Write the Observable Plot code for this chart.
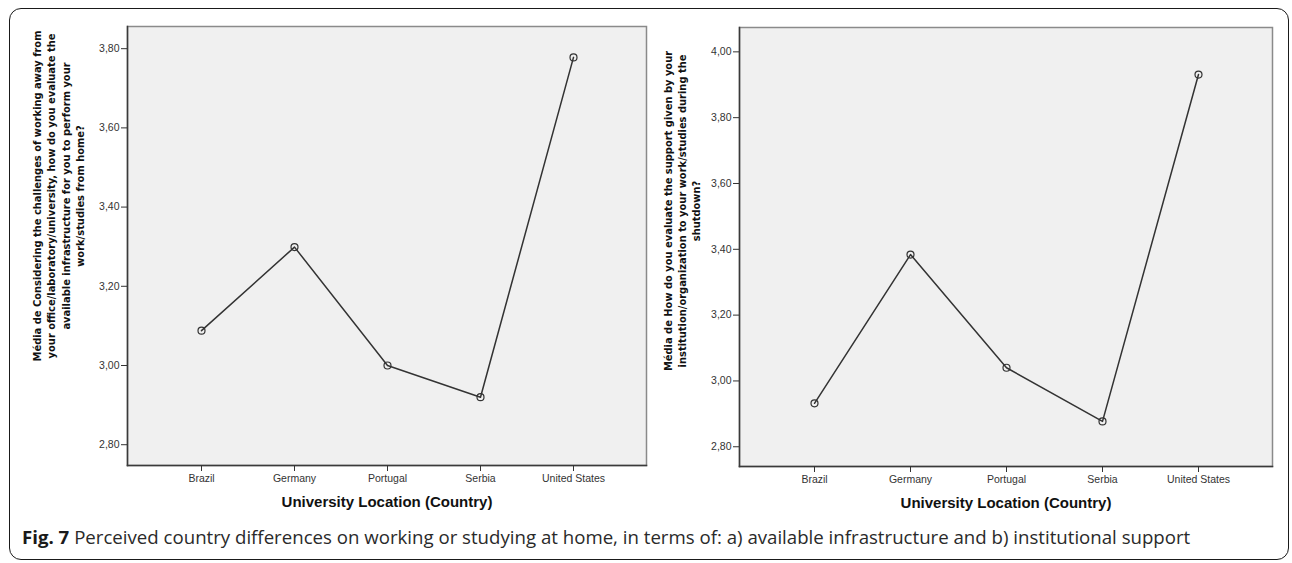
<!DOCTYPE html>
<html>
<head>
<meta charset="utf-8">
<script src="https://cdn.jsdelivr.net/npm/d3@7"></script>
<script src="https://cdn.jsdelivr.net/npm/@observablehq/plot@0.6"></script>
<style>
  html, body { margin: 0; padding: 0; background: #fff; }
  #page { position: relative; width: 1292px; height: 563px; overflow: hidden; background: #fff; }
  #border { position: absolute; left: 9px; top: 8px; width: 1278px; height: 550px; border: 1.5px solid #1a1a1a; border-radius: 12px; }
  #left { position: absolute; left: 0; top: 0; }
  #right { position: absolute; left: 646px; top: 0; }
  #caption { position: absolute; left: 22px; top: 526px; font-family: "Open Sans", sans-serif; font-size: 18.65px; color: #2a2a2a; white-space: nowrap; line-height: 1.2; }
  #caption b { font-weight: 700; color: #1a1a1a; }
</style>
</head>
<body>
<div id="page">
  <div id="border"></div>
  <div id="left"></div>
  <div id="right"></div>
  <div id="caption"><b>Fig. 7</b> <span id="captext"></span></div>
</div>
<script>
// ---- data ----
const countries = ["Brazil", "Germany", "Portugal", "Serbia", "United States"];
const infrastructure = [3.088, 3.299, 3.00, 2.92, 3.778];
const support = [2.932, 3.384, 3.04, 2.877, 3.931];
const leftTicks = [2.8, 3.0, 3.2, 3.4, 3.6, 3.8];
const rightTicks = [2.8, 3.0, 3.2, 3.4, 3.6, 3.8, 4.0];
const xTitle = "University Location (Country)";
const leftYTitle = "Média de Considering the challenges of working away from\nyour office/laboratory/university, how do you evaluate the\navailable infrastructure for you to perform your\nwork/studies from home?";
const rightYTitle = "Média de How do you evaluate the support given by your\ninstitution/organization to your work/studies during the\nshutdown?";
const captionText = "Perceived country differences on working or studying at home, in terms of: a) available infrastructure and b) institutional support";

document.getElementById("captext").textContent = captionText;

const fmt = d => d.toFixed(2).replace(".", ",");

function panel({values, ticks, yDomain, width, height, mt, mr, mb, ml, yTitle, titleDx, titleDy}) {
  const rows = countries.map((c, i) => ({country: c, value: values[i]}));
  return Plot.plot({
    width, height,
    marginTop: mt, marginRight: mr, marginBottom: mb, marginLeft: ml,
    style: {fontFamily: "Liberation Sans, Arial, sans-serif", fontSize: "10.5px", color: "#333", background: "transparent"},
    x: {type: "point", domain: countries, padding: 0.77, label: null},
    y: {domain: yDomain, label: null},
    marks: [
      Plot.frame({fill: "#f0f0f0", stroke: "#8a8a8a", strokeWidth: 1.5}),
      Plot.frame({anchor: "left", stroke: "#3a3a3a", strokeWidth: 1.5}),
      Plot.frame({anchor: "bottom", stroke: "#3a3a3a", strokeWidth: 1.5}),
      Plot.axisY({ticks, tickFormat: fmt, tickSize: 6, tickPadding: 2, stroke: "#333", label: null}),
      Plot.axisX({tickSize: 6, tickPadding: 3, stroke: "#333", label: null}),
      Plot.line(rows, {x: "country", y: "value", stroke: "#333", strokeWidth: 1.5}),
      Plot.dot(rows, {x: "country", y: "value", r: 3.5, stroke: "#333", strokeWidth: 1.2, fill: "none"}),
      Plot.text([xTitle], {text: d => d, frameAnchor: "bottom", dy: 37, lineAnchor: "middle",
        fontFamily: "Liberation Sans, Arial, sans-serif", fontWeight: "bold", fontSize: 15, fill: "#111"}),
      Plot.text([yTitle], {text: d => d, frameAnchor: "left", rotate: -90, dx: titleDx, dy: titleDy,
        lineAnchor: "middle", textAnchor: "middle", lineHeight: 1.3,
        fontFamily: "DejaVu Sans Condensed, DejaVu Sans, sans-serif", fontWeight: "bold", fontSize: 11, fill: "#111"})
    ]
  });
}

document.getElementById("left").appendChild(panel({
  values: infrastructure, ticks: leftTicks, yDomain: [2.7475, 3.856],
  width: 660, height: 520, mt: 26, mr: 14, mb: 55, ml: 127,
  yTitle: leftYTitle, titleDx: -69.5, titleDy: -50
}));

document.getElementById("right").appendChild(panel({
  values: support, ticks: rightTicks, yDomain: [2.74, 4.074],
  width: 646, height: 520, mt: 27, mr: 20, mb: 54, ml: 93,
  yTitle: rightYTitle, titleDx: -58, titleDy: -36
}));
</script>
</body>
</html>
